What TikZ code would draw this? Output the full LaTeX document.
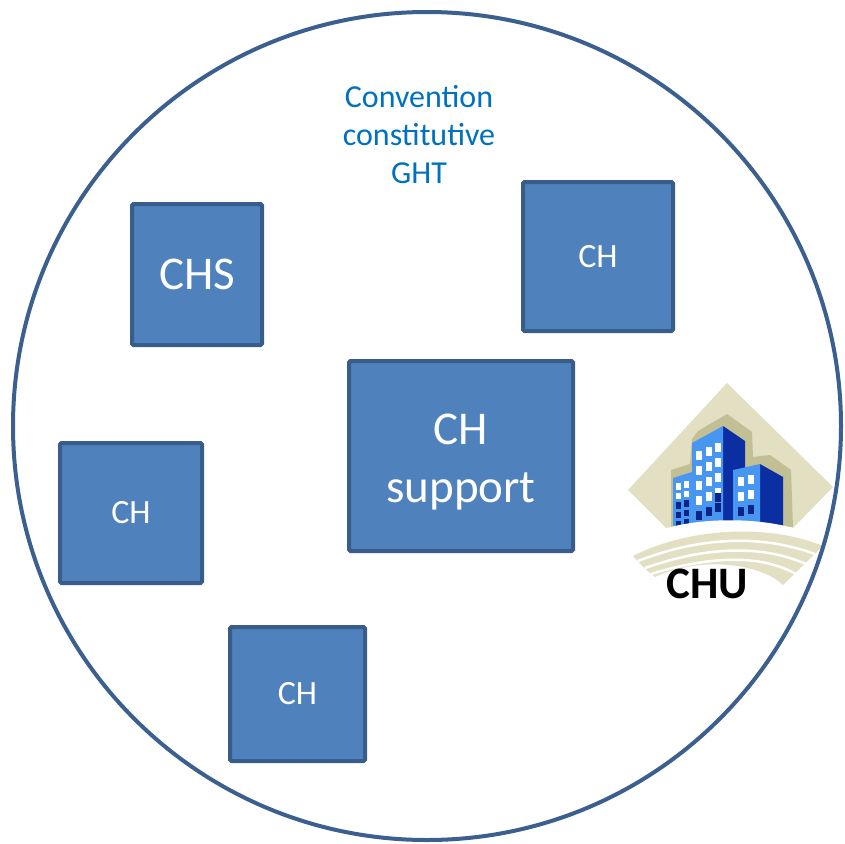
\documentclass[tikz,border=0pt]{standalone}
\usepackage{fontspec}
\setmainfont{Carlito}
\definecolor{boxfill}{HTML}{4F81BD}
\definecolor{boxline}{HTML}{385D8A}
\definecolor{ringline}{HTML}{3B5F8E}
\definecolor{titleblue}{HTML}{0070C0}
\definecolor{sand}{HTML}{E2DFC2}
\definecolor{sandshade}{HTML}{C2BF95}
\definecolor{facelight}{HTML}{4796F2}
\definecolor{facedark}{HTML}{0B2EA3}
\definecolor{windark}{HTML}{0A2488}
\tikzset{
  unit box/.style={draw=boxline, fill=boxfill, line width=4pt, rounded corners=1.5pt,
    text=white, align=center, inner sep=0pt},
  big label/.style={font=\fontsize{47}{58}\selectfont},
  small label/.style={font=\fontsize{34}{40}\selectfont},
  winw/.style={fill=white},
  wind/.style={fill=windark}
}
\begin{document}
\begin{tikzpicture}[x=1pt,y=-1pt]
\useasboundingbox (0,0) rectangle (845,843);

% establishments
\node[unit box, big label, minimum width=130pt, minimum height=141pt] (chs) at (197,274.5) {CHS};
\node[unit box, small label, minimum width=150pt, minimum height=149pt] (chtr) at (598,256.5) {CH};
\node[unit box, minimum width=224pt, minimum height=190pt] (sup) at (461,456) {};
\node[big label, text=white, align=center, inner sep=0pt] (suptext) at (461,462) {CH\\support};
\node[unit box, small label, minimum width=142pt, minimum height=140pt] (chl) at (131,513) {CH};
\node[unit box, small label, minimum width=135pt, minimum height=134pt] (chb) at (297.5,694) {CH};

% agreement label
\node[text=titleblue, align=center, font=\fontsize{32}{38}\selectfont] (conv) at (419,135)
  {Convention\\constitutive\\GHT};

% CHU emblem: diamond backdrop
\fill[sand] (628,490) -- (727,383) -- (833,487) -- (793,528)
  .. controls (760,520) and (700,520) .. (667,529) -- cycle;
% building shadow
\fill[sandshade] (671,470) -- (690,464) -- (692,439) -- (698,431) -- (727,414) -- (752,432)
  -- (753,457) -- (770,455) -- (791,470) -- (793,527) -- (671,527) -- cycle;
% left building
\fill[facelight] (673,478) -- (692,472) -- (692,527) -- (673,527) -- cycle;
% middle building
\fill[facedark] (723,426) -- (745,441) -- (745,527) -- (723,527) -- cycle;
\fill[facelight] (692,443) -- (723,426) -- (723,527) -- (692,527) -- cycle;
% right building
\fill[facedark] (760,464) -- (783,477) -- (783,527) -- (760,527) -- cycle;
\fill[facelight] (733,470) -- (760,464) -- (760,527) -- (733,527) -- cycle;
% windows, left building
\foreach \c/\dy in {0/0,1/-2} {
  \foreach \r/\sty in {0/winw,1/winw,2/wind,3/wind,4/wind} {
    \fill[\sty] (676+\c*8, 483+\dy+\r*9.5) rectangle ++(5,6.5);
  }
}
% windows, middle building
\foreach \c/\dy in {0/0,1/-4,2/-8} {
  \foreach \r/\sty in {0/winw,1/winw,2/winw,3/winw,4/wind} {
    \fill[\sty] (696+\c*9.5, 451+\dy+\r*15) rectangle ++(6,9);
  }
}
\fill[windark] (715,493) rectangle ++(6,9);
% windows, right building
\foreach \c/\dy in {0/0,1/-2} {
  \foreach \r/\sty in {0/winw,1/winw,2/wind} {
    \fill[\sty] (738+\c*10, 477+\dy+\r*15) rectangle ++(6,9);
  }
}
% ground band
\fill[white] (660,530) .. controls (700,517) and (760,517) .. (800,530) -- (800,545) -- (660,545) -- cycle;
% swoosh
\fill[sand] (633,556) .. controls (690,527) and (770,524) .. (823,546) -- (783,585)
  .. controls (760,563) and (700,556) .. (655,577) .. controls (645,569) .. (633,556) -- cycle;
\draw[white, line width=2.5pt] (638,561) .. controls (700,537) and (760,534) .. (815,554);
\draw[white, line width=2.5pt] (645,568) .. controls (705,547) and (760,544) .. (806,564);
\draw[white, line width=2.5pt] (651,574) .. controls (710,556) and (760,554) .. (796,574);
\node[font=\bfseries\fontsize{45}{50}\selectfont, text=black, inner sep=0pt] (chu) at (707,584) {CHU};

% GHT perimeter
\draw[ringline, line width=4pt] (427,426) circle[radius=414];
\end{tikzpicture}
\end{document}
